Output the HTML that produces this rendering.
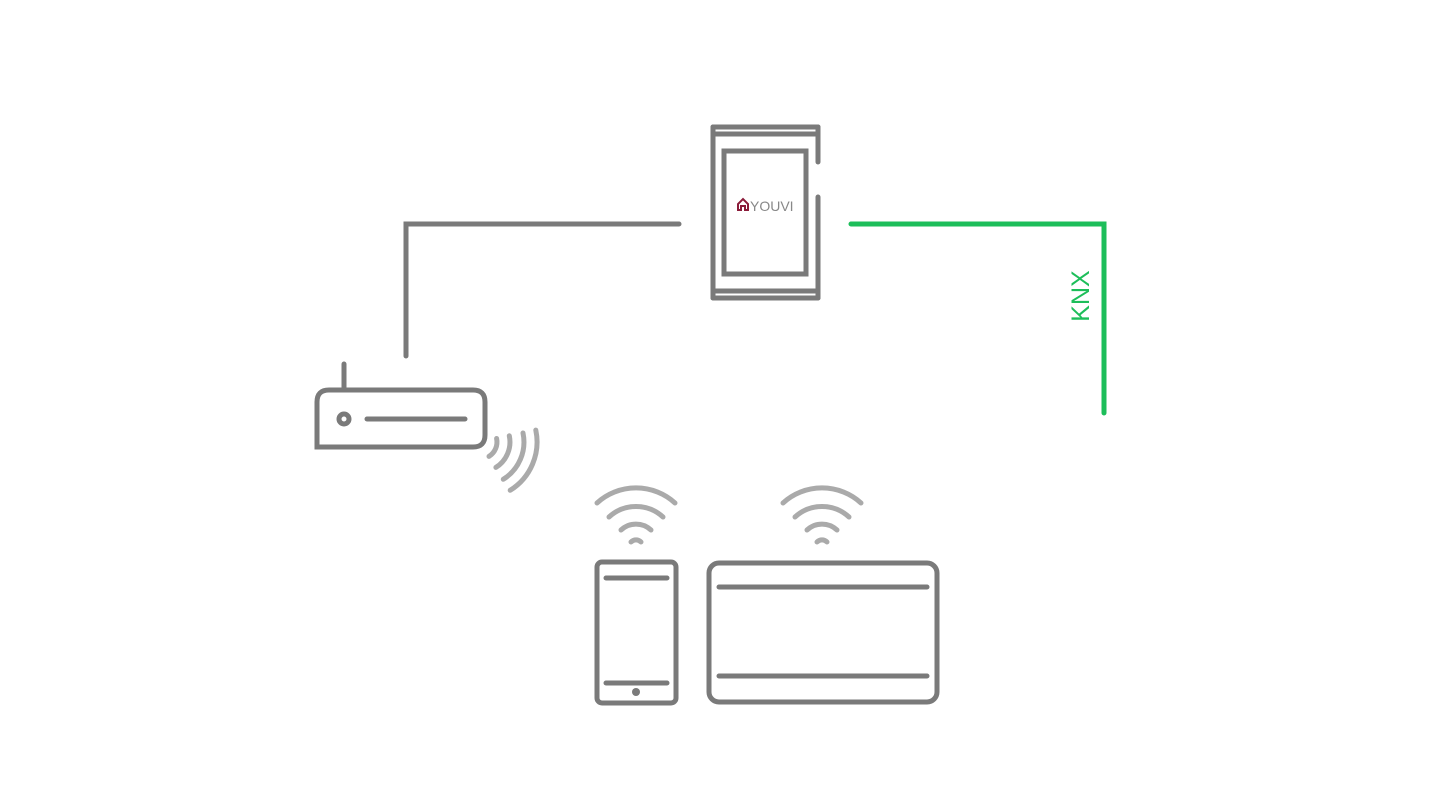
<!DOCTYPE html>
<html><head><meta charset="utf-8"><style>
html,body{margin:0;padding:0;background:#fff;}
svg{display:block;}
</style></head><body>
<svg width="1440" height="810" viewBox="0 0 1440 810" xmlns="http://www.w3.org/2000/svg">
<g fill="none" stroke="#7a7a7a" stroke-width="5" stroke-linecap="round" stroke-linejoin="miter">
  <!-- gray connector -->
  <polyline points="679,224 406,224 406,356" stroke-linecap="round"/>
  <!-- device -->
  <line x1="713" y1="127" x2="818" y2="127"/>
  <line x1="713" y1="134" x2="818" y2="134"/>
  <line x1="713" y1="127" x2="713" y2="298"/>
  <line x1="818" y1="127" x2="818" y2="162"/>
  <line x1="818" y1="197" x2="818" y2="298"/>
  <line x1="713" y1="291" x2="818" y2="291"/>
  <line x1="713" y1="298" x2="818" y2="298"/>
  <rect x="724" y="151" width="82" height="123"/>
  <!-- router -->
  <line x1="344" y1="364" x2="344" y2="390"/>
  <path d="M317,447 L317,402 Q317,390 329,390 L473,390 Q485,390 485,402 L485,435 Q485,447 473,447 Z"/>
  <circle cx="344" cy="419" r="5"/>
  <line x1="367" y1="419" x2="465" y2="419"/>
  <!-- phone -->
  <rect x="597" y="562" width="79" height="141" rx="5"/>
  <line x1="606" y1="578" x2="667" y2="578"/>
  <line x1="606" y1="683" x2="667" y2="683"/>
  <!-- tablet -->
  <rect x="709" y="563" width="228" height="139" rx="10"/>
  <line x1="719" y1="587" x2="927" y2="587"/>
  <line x1="719" y1="676" x2="927" y2="676"/>
</g>
<circle cx="636" cy="692" r="4" fill="#7a7a7a"/>
<!-- wifi arcs -->
<g fill="none" stroke="#aaaaaa" stroke-width="5" stroke-linecap="round">
  <g transform="translate(636,546)">
    <path d="M-39,-43 A58,58 0 0 1 39,-43"/>
    <path d="M-27,-29 A40,40 0 0 1 27,-29"/>
    <path d="M-15,-16 A22,22 0 0 1 15,-16"/>
    <path d="M-5,-4 A7,7 0 0 1 5,-4"/>
  </g>
  <g transform="translate(822,546)">
    <path d="M-39,-43 A58,58 0 0 1 39,-43"/>
    <path d="M-27,-29 A40,40 0 0 1 27,-29"/>
    <path d="M-15,-16 A22,22 0 0 1 15,-16"/>
    <path d="M-5,-4 A7,7 0 0 1 5,-4"/>
  </g>
  <g transform="translate(480,442)">
    <path d="M55.8,-11.9 A57,57 0 0 1 30.2,48.3"/>
    <path d="M43,-9 A44,44 0 0 1 23.3,37.3"/>
    <path d="M29.3,-6.2 A30,30 0 0 1 15.9,25.4"/>
    <path d="M16.6,-3.5 A17,17 0 0 1 9,14.4"/>
  </g>
</g>
<!-- KNX green -->
<polyline points="851,224 1104,224 1104,413" fill="none" stroke="#1dbe5a" stroke-width="5" stroke-linecap="round"/>
<text x="0" y="0" transform="translate(1089,296) rotate(-90)" text-anchor="middle" font-family="Liberation Sans, sans-serif" font-size="25" fill="#1dbe5a">KNX</text>
<!-- YOUVI logo -->
<path d="M738,210 L738,204 L743,199 L748,204 L748,210 L745,210 L745,206 L741,206 L741,210 Z" fill="none" stroke="#8b1c3a" stroke-width="2"/>
<text x="750" y="211" font-family="Liberation Sans, sans-serif" font-size="14" fill="#888">YOUVI</text>
</svg>
</body></html>
